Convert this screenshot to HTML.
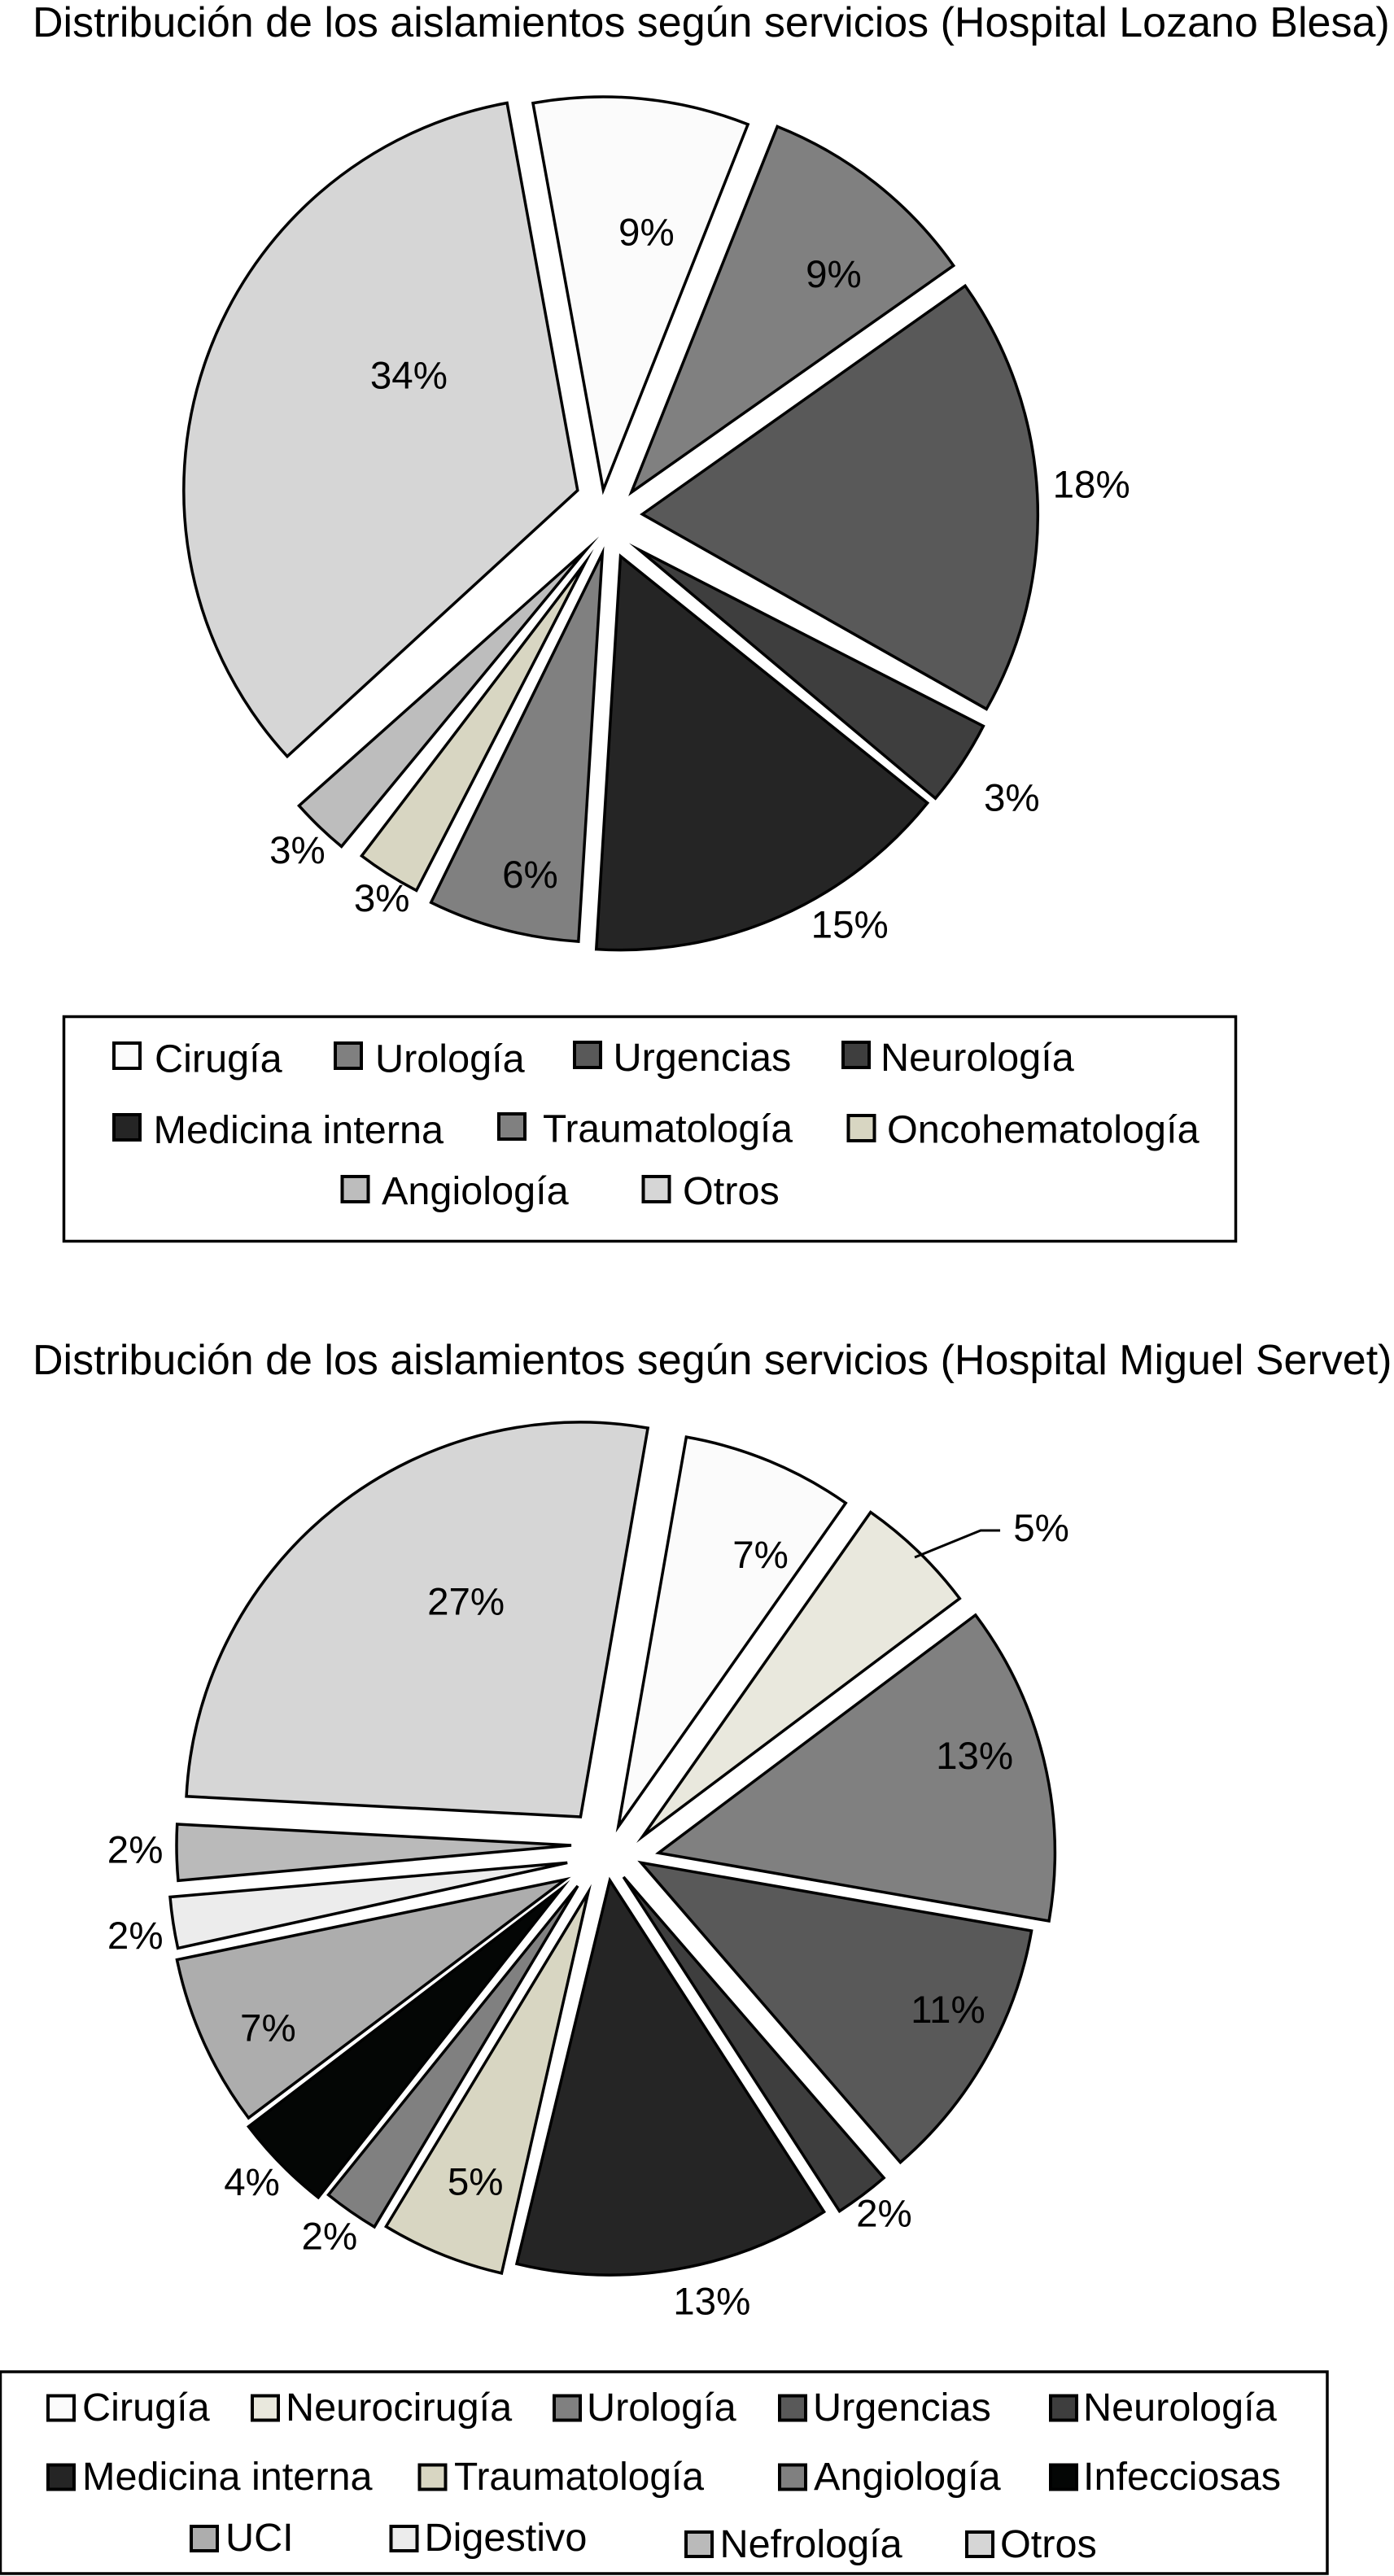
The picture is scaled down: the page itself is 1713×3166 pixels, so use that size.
<!DOCTYPE html>
<html lang="es">
<head>
<meta charset="utf-8">
<title>Distribución de los aislamientos según servicios</title>
<style>
  html, body { margin: 0; padding: 0; background: #fff; }
  svg { display: block; }
  text { font-family: "Liberation Sans", Arial, sans-serif; fill: #000; }
  .title { font-size: 52px; }
  .legend-text { font-size: 48.6px; }
  .pct { font-size: 47.5px; text-anchor: middle; }
  .sw { stroke: #000; stroke-width: 4; }
  .box { fill: #fff; stroke: #000; stroke-width: 3.5; }
</style>
</head>
<body>
<svg id="figure" xmlns="http://www.w3.org/2000/svg" width="1713" height="3166" viewBox="0 0 1713 3166">
  <rect x="0" y="0" width="1713" height="3166" fill="#fff"/>

  <text class="title" x="40" y="45">Distribución de los aislamientos según servicios (Hospital Lozano Blesa)</text>
  <g id="pie-lozano"></g>

  <g>
    <rect class="box" x="78.5" y="1249.5" width="1440" height="276"/>
    <g><rect class="sw" x="140" y="1282" width="32" height="31" fill="#fbfbfb"/><text class="legend-text" x="190" y="1317.5">Cirugía</text></g>
    <g><rect class="sw" x="412" y="1282" width="32" height="31" fill="#808080"/><text class="legend-text" x="461" y="1317.5">Urología</text></g>
    <g><rect class="sw" x="706" y="1281" width="32" height="31" fill="#595959"/><text class="legend-text" x="753.5" y="1316">Urgencias</text></g>
    <g><rect class="sw" x="1036" y="1281" width="32" height="31" fill="#3e3e3e"/><text class="legend-text" x="1082" y="1316">Neurología</text></g>
    <g><rect class="sw" x="140" y="1370" width="32" height="31" fill="#252525"/><text class="legend-text" x="188.5" y="1405">Medicina interna</text></g>
    <g><rect class="sw" x="613" y="1369" width="32" height="31" fill="#808080"/><text class="legend-text" x="667" y="1403.5" textLength="307" lengthAdjust="spacingAndGlyphs">Traumatología</text></g>
    <g><rect class="sw" x="1042.5" y="1371" width="32" height="31" fill="#d8d6c2"/><text class="legend-text" x="1090" y="1404.5">Oncohematología</text></g>
    <g><rect class="sw" x="420.5" y="1446" width="32" height="31" fill="#bdbdbd"/><text class="legend-text" x="469" y="1480">Angiología</text></g>
    <g><rect class="sw" x="790.5" y="1446" width="32" height="31" fill="#d6d6d6"/><text class="legend-text" x="839" y="1480">Otros</text></g>
  </g>

  <text class="title" x="40" y="1689">Distribución de los aislamientos según servicios (Hospital Miguel Servet)</text>
  <g id="pie-servet"></g>

  <g>
    <rect class="box" x="0.5" y="2915" width="1630.5" height="248"/>
    <g><rect class="sw" x="59" y="2944.5" width="32" height="30" fill="#fbfbfb"/><text class="legend-text" x="101" y="2975">Cirugía</text></g>
    <g><rect class="sw" x="310" y="2944.5" width="32" height="30" fill="#e9e8dd"/><text class="legend-text" x="351" y="2975">Neurocirugía</text></g>
    <g><rect class="sw" x="681" y="2944.5" width="32" height="30" fill="#808080"/><text class="legend-text" x="721" y="2975">Urología</text></g>
    <g><rect class="sw" x="958" y="2944.5" width="32" height="30" fill="#595959"/><text class="legend-text" x="999" y="2975">Urgencias</text></g>
    <g><rect class="sw" x="1291" y="2944.5" width="32" height="30" fill="#3e3e3e"/><text class="legend-text" x="1331" y="2975">Neurología</text></g>
    <g><rect class="sw" x="59" y="3029.5" width="32" height="30" fill="#252525"/><text class="legend-text" x="101" y="3060">Medicina interna</text></g>
    <g><rect class="sw" x="515.5" y="3029.5" width="32" height="30" fill="#d8d6c2"/><text class="legend-text" x="558" y="3060" textLength="307" lengthAdjust="spacingAndGlyphs">Traumatología</text></g>
    <g><rect class="sw" x="958" y="3029.5" width="32" height="30" fill="#808080"/><text class="legend-text" x="1000" y="3060">Angiología</text></g>
    <g><rect class="sw" x="1291" y="3029.5" width="32" height="30" fill="#040605"/><text class="legend-text" x="1331" y="3060">Infecciosas</text></g>
    <g><rect class="sw" x="235" y="3105" width="32" height="30" fill="#adadad"/><text class="legend-text" x="277" y="3135">UCI</text></g>
    <g><rect class="sw" x="480.5" y="3105" width="32" height="30" fill="#ececec"/><text class="legend-text" x="521.5" y="3135">Digestivo</text></g>
    <g><rect class="sw" x="843" y="3112" width="32" height="30" fill="#bababa"/><text class="legend-text" x="884.5" y="3143">Nefrología</text></g>
    <g><rect class="sw" x="1188" y="3112" width="32" height="30" fill="#d6d6d6"/><text class="legend-text" x="1229" y="3143">Otros</text></g>
  </g>
</svg>

<script>
// ---------- Data: Hospital Lozano Blesa ----------
const lozanoServices = ['Cirugía', 'Urología', 'Urgencias', 'Neurología', 'Medicina interna', 'Traumatología', 'Oncohematología', 'Angiología', 'Otros'];
// Wedge shares (percent of the circle).
const lozanoValues = [8.86, 9.2, 18, 3.58, 15.2, 6.28, 2.8, 2.44, 33.94];
// Percentages as printed on the figure.
const lozanoPrinted = [9, 9, 18, 3, 15, 6, 3, 3, 34];

// ---------- Data: Hospital Miguel Servet ----------
const servetServices = ['Cirugía', 'Neurocirugía', 'Urología', 'Urgencias', 'Neurología', 'Medicina interna', 'Traumatología', 'Angiología', 'Infecciosas', 'UCI', 'Digestivo', 'Nefrología', 'Otros'];
const servetValues = [7, 5, 13, 10.9, 2.22, 12.92, 5.1, 2.25, 4.03, 7.03, 2.07, 2.28, 26.9];
const servetPrinted = [7, 5, 13, 11, 2, 13, 5, 2, 4, 7, 2, 2, 27];

// ---------- Styling and layout (not data) ----------
const lozanoFills = ['#fbfbfb', '#808080', '#595959', '#3e3e3e', '#252525', '#808080', '#d8d6c2', '#bdbdbd', '#d6d6d6'];
const servetFills = ['#fbfbfb', '#e9e8dd', '#808080', '#595959', '#3e3e3e', '#252525', '#d8d6c2', '#808080', '#040605', '#adadad', '#ececec', '#bababa', '#d6d6d6'];

// Explode offset of each wedge from the pie centre.
const lozanoExplode = [[-6.7, -33], [27.9, -30], [41.3, -3], [37.9, 41.1], [14.5, 48.6], [-7.8, 45], [-29, 56.6], [-27.7, 40.8], [-38.2, -32.3]];
const servetExplode = [[11.8, -45.1], [41.8, -33], [61.3, -12.7], [39.8, -0.7], [18.2, 16.9], [1.4, 21], [-25.2, 35.8], [-38, 27.8], [-57.5, 30.5], [-53.6, 20], [-50.8, -0.6], [-46, -22], [-34.6, -57]];

// Hand-drawn wedges differ slightly in radius and rotation.
const lozanoRadius = [483, 484, 486, 474.6, 484, 478, 453, 472.6, 484];
const servetRadius = [486, 487, 487, 487, 489, 485, 480, 488, 484, 487, 490, 485, 485];
const lozanoRotate = [0, 0.15, 0, -2.4, -3.6, -3.6, -2.5, -0.3, -1.1];
const servetRotate = [0, 0, 0, 0, 0, 0, -0.84, -1.2, -1.9, -1.6, -2.3, -2.5, -2.6];

// Label placement: distance from centre, and angular skew from the wedge bisector.
const lozanoLabelDist = [352.8, 407.5, 596, 605, 583, 450, 544.7, 559.7, 299.4];
const lozanoLabelSkew = [2.15, 4.84, -0.92, -1.16, -10.47, -6.23, -4.17, -1.3, 15.71];
const servetLabelDist = [423, 673.7, 470, 455.6, 548.4, 553.5, 424, 571.6, 587, 463.7, 587, 580.6, 365.6];
const servetLabelSkew = [3.9, 8.2, -2.8, -6.22, -1.44, -3.79, -0.32, 0.65, 0.74, -3.17, -2.35, 0.13, 7.6];

const SVG_NS = 'http://www.w3.org/2000/svg';
const DEGREES_PER_PERCENT = 3.6;

function slug(s) {
  return s.normalize('NFD').replace(/[\u0300-\u036f]/g, '').toLowerCase().replace(/\s+/g, '-');
}
function polar(cx, cy, r, deg) {
  const a = deg * Math.PI / 180;
  return [cx + r * Math.sin(a), cy - r * Math.cos(a)];
}
function valueToSweep(v) {
  return v * DEGREES_PER_PERCENT;
}

function drawPie(cfg) {
  const group = document.getElementById(cfg.groupId);
  let angle = cfg.startAngle;
  const labels = [];

  cfg.values.forEach((v, i) => {
    const sweep = valueToSweep(v);
    const bisector = angle + sweep / 2;
    const start = angle + cfg.rotate[i];
    const r = cfg.radius[i];
    const tipX = cfg.cx + cfg.explode[i][0];
    const tipY = cfg.cy + cfg.explode[i][1];
    const p0 = polar(tipX, tipY, r, start);
    const p1 = polar(tipX, tipY, r, start + sweep);
    const large = sweep > 180 ? 1 : 0;

    const slice = document.createElementNS(SVG_NS, 'path');
    slice.setAttribute('d', 'M' + tipX + ' ' + tipY + ' L' + p0[0] + ' ' + p0[1] + ' A' + r + ' ' + r + ' 0 ' + large + ' 1 ' + p1[0] + ' ' + p1[1] + ' Z');
    slice.setAttribute('fill', cfg.fills[i]);
    slice.setAttribute('stroke', '#000');
    slice.setAttribute('stroke-width', '3.5');
    slice.setAttribute('stroke-linejoin', 'miter');
    slice.setAttribute('stroke-miterlimit', cfg.miterLimit);
    
    
    group.appendChild(slice);

    labels.push({ i: i, pos: polar(cfg.cx, cfg.cy, cfg.labelDist[i], bisector + cfg.labelSkew[i]) });
    angle += sweep;
  });

  labels.forEach(function (l) {
    const t = document.createElementNS(SVG_NS, 'text');
    t.setAttribute('class', 'pct');
    t.setAttribute('x', l.pos[0] - 1.5);
    t.setAttribute('y', l.pos[1] + 16);
    t.textContent = cfg.printed[l.i] + '%';
    
    
    group.appendChild(t);

    if (cfg.leaderIndex === l.i) {
      const leader = document.createElementNS(SVG_NS, 'polyline');
      leader.setAttribute('points', (l.pos[0] - 157) + ',' + (l.pos[1] + 36) + ' ' + (l.pos[0] - 76) + ',' + (l.pos[1] + 3) + ' ' + (l.pos[0] - 52) + ',' + (l.pos[1] + 3));
      leader.setAttribute('fill', 'none');
      leader.setAttribute('stroke', '#000');
      leader.setAttribute('stroke-width', '3');
      
      
      group.appendChild(leader);
    }
  });
}

drawPie({
  groupId: 'pie-lozano',
  cx: 748, cy: 635, startAngle: 349.7, miterLimit: '30',
  services: lozanoServices, values: lozanoValues, printed: lozanoPrinted, fills: lozanoFills,
  explode: lozanoExplode, radius: lozanoRadius, rotate: lozanoRotate,
  labelDist: lozanoLabelDist, labelSkew: lozanoLabelSkew,
  leaderIndex: -1
});

drawPie({
  groupId: 'pie-servet',
  cx: 748, cy: 2290, startAngle: 9.9, miterLimit: '10',
  services: servetServices, values: servetValues, printed: servetPrinted, fills: servetFills,
  explode: servetExplode, radius: servetRadius, rotate: servetRotate,
  labelDist: servetLabelDist, labelSkew: servetLabelSkew,
  leaderIndex: 1
});
</script>
</body>
</html>
